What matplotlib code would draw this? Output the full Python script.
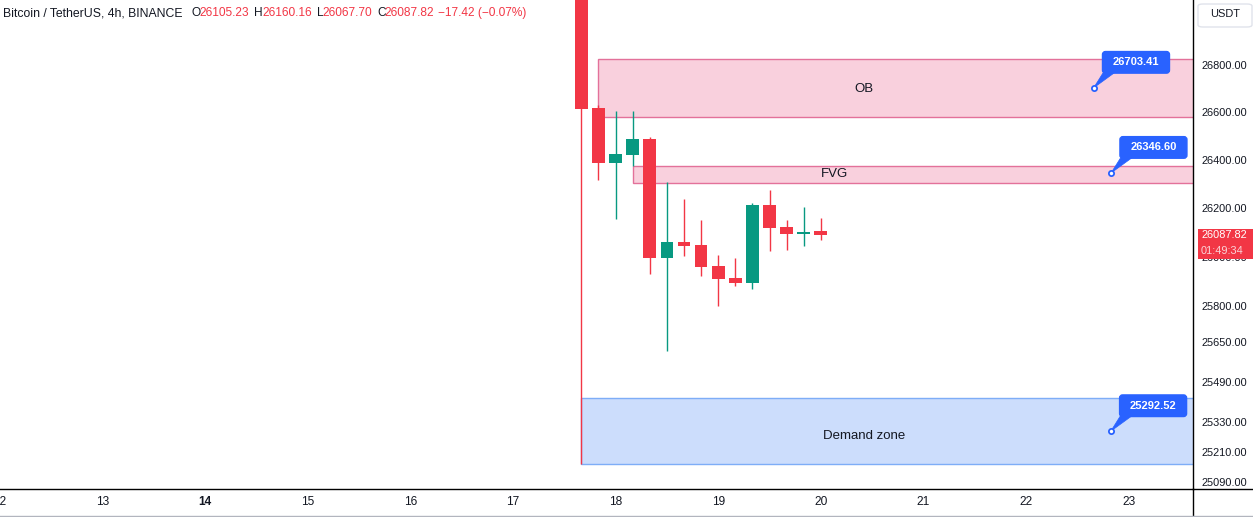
import numpy as np
import pandas as pd
import matplotlib
matplotlib.use("Agg")
import matplotlib.pyplot as plt
import matplotlib.dates as mdates
from matplotlib.patches import Rectangle, FancyBboxPatch, Polygon
from matplotlib.transforms import IdentityTransform, blended_transform_factory
from matplotlib.ticker import FixedLocator, NullLocator

plt.rcParams['font.family'] = ['Liberation Sans', 'DejaVu Sans']

# 4h candles, BTC/USDT (Binance)
times = ["2023-09-17 16:00", "2023-09-17 20:00", "2023-09-18 00:00", "2023-09-18 04:00",
         "2023-09-18 08:00", "2023-09-18 12:00", "2023-09-18 16:00", "2023-09-18 20:00",
         "2023-09-19 00:00", "2023-09-19 04:00", "2023-09-19 08:00", "2023-09-19 12:00",
         "2023-09-19 16:00", "2023-09-19 20:00", "2023-09-20 00:00"]
opens = [27250, 26618, 26388, 26421, 26488, 25996, 26060, 26048, 25962, 25911,
         25893, 26213, 26122, 26094, 26105.23]
highs = [27300, 26630, 26606, 26606, 26497, 26309, 26238, 26151, 26007, 25996,
         26223, 26276, 26151, 26205, 26160.16]
lows = [25161, 26317, 26155, 26375, 25929, 25617, 26003, 25921, 25798, 25881,
        25869, 26023, 26028, 26044, 26067.70]
closes = [26615, 26388, 26426, 26488, 25996, 26060, 26044, 25959, 25910, 25893,
          26213, 26118, 26095, 26102, 26087.82]

# zones
zone_names = ["OB", "FVG", "Demand zone"]
zone_start = ["2023-09-17 20:00", "2023-09-18 04:00", "2023-09-17 16:00"]
zone_top = [26824, 26375, 25426]
zone_bottom = [26579, 26306, 25161]
zone_label_y = [26700, 26341, 25274]

# price notes
note_times = ["2023-09-22 15:50", "2023-09-22 19:55", "2023-09-22 19:50"]
note_prices = [26703.41, 26346.60, 25292.52]

# axes
ytick_vals = [26800, 26600, 26400, 26200, 26000, 25800, 25650, 25490, 25330, 25210, 25090]
day_ticks = list(range(12, 24))

RED = '#F23645'
GREEN = '#089981'
TXT = '#131722'
BLUE = '#2962FF'

W, H = 1253, 517
fig = plt.figure(figsize=(W / 100, H / 100), dpi=100)
ax = fig.add_axes([0, 1 - 489 / H, 1193 / W, 489 / H])

t = mdates.date2num(pd.to_datetime(times))
o = np.array(opens); h = np.array(highs); l = np.array(lows); c = np.array(closes)
cols = [GREEN if cc >= oo else RED for oo, cc in zip(o, c)]

x0 = mdates.date2num(pd.Timestamp("2023-09-12"))
ax.set_xlim(x0, x0 + 1193 / 102.6)
ax.set_yscale('log')
ax.set_ylim(25062.6, 27076.8)

# zones
blend = blended_transform_factory(ax.transAxes, ax.transData)
zone_fc = ['#F9D0DD', '#F9D0DD', '#CCDDFC']
zone_ec = ['#E3719A', '#E3719A', '#7EADF7']
zone_lx = [864 / 1193, 834 / 1193, 864 / 1193]
xs = mdates.date2num(pd.to_datetime(zone_start))
for i in range(3):
    ax.add_patch(Rectangle((xs[i], zone_bottom[i]), ax.get_xlim()[1] - xs[i] + 1,
                           zone_top[i] - zone_bottom[i], fc=zone_fc[i], ec=zone_ec[i],
                           lw=1.0, zorder=1))
    ax.text(zone_lx[i], zone_label_y[i], zone_names[i], transform=blend,
            ha='center', va='center', fontsize=9.5, color=TXT, zorder=5)

# candles
w = 0.1238
ax.vlines(t, l, h, colors=cols, lw=1.0, zorder=3)
ax.bar(t, np.maximum(np.abs(c - o), 0.5), bottom=np.minimum(o, c), width=w,
       color=cols, zorder=4, linewidth=0)

# axis styling
for s in ['left', 'top']:
    ax.spines[s].set_visible(False)
ax.spines['right'].set_color('black')
ax.spines['bottom'].set_color('black')
ax.spines['right'].set_linewidth(1.0)
ax.spines['bottom'].set_linewidth(1.0)

ax.yaxis.tick_right()
ax.yaxis.set_major_locator(FixedLocator(ytick_vals))
ax.yaxis.set_minor_locator(NullLocator())
ax.set_yticklabels([f"{v:.2f}" for v in ytick_vals])
ax.tick_params(axis='y', length=0, pad=5.8, labelsize=7.9, labelcolor=TXT)

day_nums = mdates.date2num([pd.Timestamp(2023, 9, d) for d in day_ticks])
ax.xaxis.set_major_locator(FixedLocator(day_nums))
ax.xaxis.set_minor_locator(NullLocator())
ax.set_xticklabels([str(d) for d in day_ticks])
ax.tick_params(axis='x', length=0, pad=5, labelsize=8.6, labelcolor=TXT)
for lab, d in zip(ax.get_xticklabels(), day_ticks):
    if d == 14:
        lab.set_fontweight('bold')

# price notes
ax.scatter(mdates.date2num(pd.to_datetime(note_times)), note_prices, s=14,
           facecolor='white', edgecolor=BLUE, linewidth=1.3, zorder=8)
idt = IdentityTransform()
for nt, npv in zip(note_times, note_prices):
    px, py = ax.transData.transform((mdates.date2num(pd.Timestamp(nt)), npv))
    tail = Polygon([(px, py), (px + 10, py + 16), (px + 22, py + 16)], closed=True,
                   fc=BLUE, ec=BLUE, lw=0.5, transform=idt, zorder=7)
    ax.add_patch(tail)
    box = FancyBboxPatch((px + 8.8, py + 14.7), 67, 21.6,
                         boxstyle='round,pad=0,rounding_size=3', fc=BLUE, ec=BLUE,
                         transform=idt, zorder=7, clip_on=False)
    ax.add_patch(box)
    ax.text(px + 42.3, py + 25.5, f"{npv:.2f}", transform=idt, ha='center', va='center',
            fontsize=8, fontweight='bold', color='white', zorder=9)

# current price label on the axis
cx, cy = ax.transData.transform((t[-1], closes[-1]))
lab_top = cy + 6.5
fig.add_artist(Rectangle((1198, lab_top - 30.3), 55, 30.3, fc=RED, ec='none',
                         transform=idt, zorder=5))
fig.text(1201, cy, f"{closes[-1]:.2f}", transform=idt, ha='left', va='center',
         fontsize=7.9, color='white', zorder=6)
fig.text(1201, cy - 15.3, "01:49:34", transform=idt, ha='left', va='center',
         fontsize=7.9, color='#FAD3D7', zorder=6)

# extra frame lines
fig.add_artist(plt.Line2D([1193 / W, 1], [1 - 489 / H] * 2, color='black', lw=1.0,
                          transform=fig.transFigure))
fig.add_artist(plt.Line2D([1192.5 / W] * 2, [0, 1 - 489 / H], color='black', lw=1.0,
                          transform=fig.transFigure))
fig.add_artist(plt.Line2D([0, 1], [1 - 515.7 / H] * 2, color='#B2B5BE', lw=1.0,
                          transform=fig.transFigure))

# USDT button
fig.add_artist(FancyBboxPatch((1198 / W, 1 - 27 / H), 54 / W, 23 / H,
                              boxstyle='round,pad=0,rounding_size=0.004',
                              fc='white', ec='#E0E3EB', lw=1.0, transform=fig.transFigure))
fig.text(1225 / W, 1 - 14 / H, "USDT", ha='center', va='center', fontsize=7.9, color=TXT)

# header
hy = 1 - 13 / H
parts = [(3, "Bitcoin / TetherUS, 4h, BINANCE", TXT, 8.8), (191.5, "O", TXT, 8.6),
         (199.5, f"{opens[-1]:.2f}", RED, 8.6), (254, "H", TXT, 8.6),
         (262, f"{highs[-1]:.2f}", RED, 8.6), (316.5, "L", TXT, 8.6),
         (322.5, f"{lows[-1]:.2f}", RED, 8.6), (377.5, "C", TXT, 8.6),
         (384, f"{closes[-1]:.2f}", RED, 8.6), (438.3, "\u221217.42 (\u22120.07%)", RED, 8.6)]
for px, s, col, fs in parts:
    fig.text(px / W, hy, s, ha='left', va='center', fontsize=fs, color=col)

fig.savefig("out.png", dpi=100)
